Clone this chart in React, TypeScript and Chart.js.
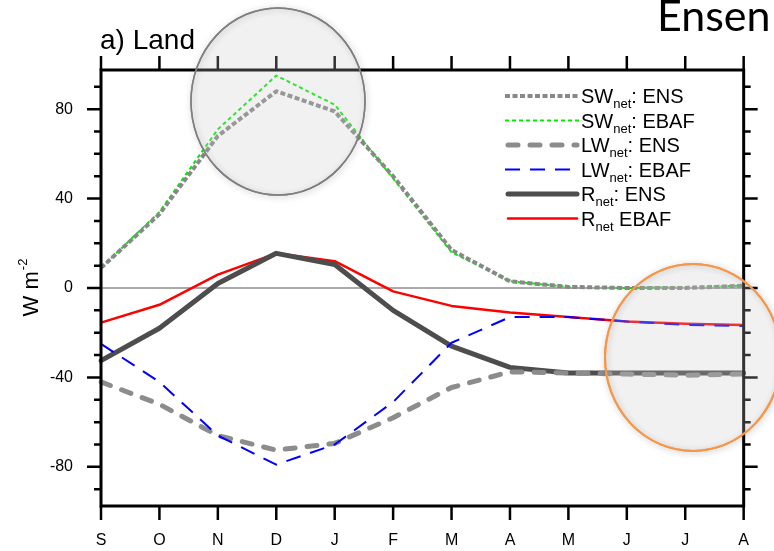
import React, { useEffect, useRef } from 'react';
import { Chart, registerables } from 'chart.js';

Chart.register(...registerables);

// Seasonal cycle, S through A (W m-2)
const months = ['S', 'O', 'N', 'D', 'J', 'F', 'M', 'A', 'M', 'J', 'J', 'A'];
const swEns = [9, 33, 68, 88, 79, 50, 17, 3, 0.5, 0, 0, 1];
const swEbaf = [9, 34, 71, 95, 82, 49, 16, 3, 0.5, 0, 0.5, 1];
const lwEns = [-42, -52, -66, -72.5, -69.5, -58, -44.5, -37.5, -38, -38.5, -39, -38.5];
const lwEbaf = [-25, -42, -66, -79, -70, -51, -24.5, -13, -13, -15, -16.5, -17];
const rEns = [-32.5, -18, 2, 15.5, 10.5, -10, -26, -35.5, -38, -38, -38, -38];
const rEbaf = [-15.5, -7.5, 6, 15.5, 12, -1.5, -8, -11, -13, -15, -16, -16.5];

const yMajorTicks = [-80, -40, 0, 40, 80];
const yMinorTicks = [-90, -70, -60, -50, -30, -20, -10, 10, 20, 30, 50, 60, 70, 90];
const yMin = -97.5;
const yMax = 97.5;

const panelTitle = 'a) Land';
const headerText = 'Ensen';
const yTitle = 'W m';
const yTitleSup = '-2';

type Row = { base: string; tail: string };
const legendRows: Row[] = [
  { base: 'SW', tail: ': ENS' },
  { base: 'SW', tail: ': EBAF' },
  { base: 'LW', tail: ': ENS' },
  { base: 'LW', tail: ': EBAF' },
  { base: 'R', tail: ': ENS' },
  { base: 'R', tail: ' EBAF' },
];

const FONT = '"Liberation Sans", Arial, Helvetica, sans-serif';

type LineStyle = { color: string; width: number; dash: number[]; cap: CanvasLineCap };
const styles: LineStyle[] = [
  { color: '#888888', width: 4, dash: [5, 2.5], cap: 'butt' },
  { color: '#00ee00', width: 2, dash: [4, 3], cap: 'butt' },
  { color: '#8c8c8c', width: 5, dash: [10, 12], cap: 'round' },
  { color: '#0000ff', width: 2, dash: [15, 10], cap: 'butt' },
  { color: '#4d4d4d', width: 5, dash: [], cap: 'round' },
  { color: '#ff0000', width: 2.5, dash: [], cap: 'round' },
];
const seriesData = [swEns, swEbaf, lwEns, lwEbaf, rEns, rEbaf];
// higher order is painted first
const drawOrder = [0, 1, 3, 2, 4, 5];

const decorations = {
  id: 'decorations',
  beforeDatasetsDraw(chart: any) {
    const { ctx, chartArea, scales } = chart;
    const y0 = scales.y.getPixelForValue(0);
    ctx.save();
    ctx.strokeStyle = '#555555';
    ctx.lineWidth = 1;
    ctx.beginPath();
    ctx.moveTo(chartArea.left, y0);
    ctx.lineTo(chartArea.right, y0);
    ctx.stroke();
    ctx.restore();
  },
  afterDatasetsDraw(chart: any) {
    const { ctx, chartArea, scales } = chart;
    const { left, right, top, bottom } = chartArea;
    const xs = scales.x;
    const ys = scales.y;
    ctx.save();

    // frame
    ctx.strokeStyle = '#000';
    ctx.lineWidth = 3;
    ctx.strokeRect(left, top, right - left, bottom - top);

    // tick marks, all pointing outward
    ctx.lineWidth = 2.5;
    ctx.lineCap = 'butt';
    const major = 14;
    const minor = 7;
    ctx.beginPath();
    months.forEach((_, i) => {
      const px = xs.getPixelForValue(i);
      ctx.moveTo(px, bottom);
      ctx.lineTo(px, bottom + major);
      ctx.moveTo(px, top);
      ctx.lineTo(px, top - major);
    });
    yMajorTicks.forEach((v) => {
      const py = ys.getPixelForValue(v);
      ctx.moveTo(left, py);
      ctx.lineTo(left - major, py);
      ctx.moveTo(right, py);
      ctx.lineTo(right + major, py);
    });
    yMinorTicks.forEach((v) => {
      const py = ys.getPixelForValue(v);
      ctx.moveTo(left, py);
      ctx.lineTo(left - minor, py);
      ctx.moveTo(right, py);
      ctx.lineTo(right + minor, py);
    });
    ctx.stroke();

    // panel title
    ctx.fillStyle = '#000';
    ctx.font = `28px ${FONT}`;
    ctx.textAlign = 'left';
    ctx.textBaseline = 'alphabetic';
    ctx.fillText(panelTitle, 100, 49);

    // header text at the top right
    ctx.font = `43px Lato, "Open Sans", sans-serif`;
    ctx.fillText(headerText, 657, 31);

    // y axis title with superscript
    ctx.save();
    ctx.font = `22px ${FONT}`;
    const wMain = ctx.measureText(yTitle).width;
    ctx.font = `13px ${FONT}`;
    const wSup = ctx.measureText(yTitleSup).width;
    ctx.translate(38, ys.getPixelForValue(0));
    ctx.rotate(-Math.PI / 2);
    const start = -(wMain + wSup) / 2;
    ctx.font = `22px ${FONT}`;
    ctx.fillText(yTitle, start, 0);
    ctx.font = `13px ${FONT}`;
    ctx.fillText(yTitleSup, start + wMain + 1, -11);
    ctx.restore();

    // legend
    legendRows.forEach((row, i) => {
      const st = styles[i];
      const ly = 96 + 24.5 * i;
      ctx.save();
      ctx.strokeStyle = st.color;
      ctx.lineWidth = st.width;
      ctx.lineCap = st.cap;
      ctx.setLineDash(st.dash);
      ctx.beginPath();
      ctx.moveTo(st.cap === 'round' ? 508 : 505, ly);
      ctx.lineTo(st.cap === 'round' ? 577 : 580, ly);
      ctx.stroke();
      ctx.restore();
      let tx = 581;
      ctx.fillStyle = '#000';
      ctx.font = `20px ${FONT}`;
      ctx.fillText(row.base, tx, ly + 7);
      tx += ctx.measureText(row.base).width;
      ctx.font = `13px ${FONT}`;
      ctx.fillText('net', tx, ly + 12);
      tx += ctx.measureText('net').width;
      ctx.font = `20px ${FONT}`;
      ctx.fillText(row.tail, tx, ly + 7);
    });

    // highlight ellipses: pale translucent fill, soft outer shadow, thin outline
    const ellipse = (cx: number, cy: number, rx: number, ry: number, stroke: string, lw: number) => {
      ctx.save();
      ctx.beginPath();
      ctx.ellipse(cx, cy, rx, ry, 0, 0, Math.PI * 2);
      ctx.shadowColor = 'rgba(0,0,0,0.35)';
      ctx.shadowBlur = 6;
      ctx.shadowOffsetX = 1;
      ctx.shadowOffsetY = 1;
      ctx.strokeStyle = stroke;
      ctx.lineWidth = lw;
      ctx.stroke();
      ctx.shadowColor = 'transparent';
      ctx.fillStyle = 'rgba(200,200,200,0.25)';
      ctx.fill();
      ctx.stroke();
      ctx.restore();
    };
    ellipse(278, 101.5, 87, 93.5, '#7f7f7f', 1.5);
    ellipse(693, 357.5, 88, 93.5, '#f79646', 2);

    ctx.restore();
  },
};

export default function App() {
  const canvasRef = useRef<HTMLCanvasElement>(null);

  useEffect(() => {
    document.body.style.margin = '0';
    const canvas = canvasRef.current;
    if (!canvas) return;
    const chart = new Chart(canvas, {
      type: 'line',
      data: {
        labels: months,
        datasets: seriesData.map((d, i) => ({
          label: legendRows[i].base + legendRows[i].tail,
          data: d,
          borderColor: styles[i].color,
          borderWidth: styles[i].width,
          borderDash: styles[i].dash,
          borderCapStyle: styles[i].cap,
          borderJoinStyle: 'round' as CanvasLineJoin,
          pointRadius: 0,
          fill: false,
          tension: 0,
          order: drawOrder[i],
        })),
      },
      options: {
        responsive: false,
        animation: false,
        devicePixelRatio: 1,
        layout: { padding: { top: 70, right: 21, left: 0, bottom: 0 } },
        plugins: {
          legend: { display: false },
          tooltip: { enabled: false },
        },
        scales: {
          x: {
            type: 'category',
            offset: false,
            grid: { display: false, drawTicks: false },
            border: { display: false },
            ticks: {
              color: '#000',
              font: { family: FONT, size: 16 },
              padding: 25,
              autoSkip: false,
              maxRotation: 0,
            },
            afterFit: (s: any) => {
              s.height = 45;
            },
          },
          y: {
            type: 'linear',
            min: yMin,
            max: yMax,
            grid: { display: false, drawTicks: false },
            border: { display: false },
            ticks: {
              color: '#000',
              font: { family: FONT, size: 16 },
              padding: 28,
            },
            afterBuildTicks: (s: any) => {
              s.ticks = yMajorTicks.map((v) => ({ value: v }));
            },
            afterFit: (s: any) => {
              s.width = 101;
            },
          },
        },
      },
      plugins: [decorations],
    });
    return () => chart.destroy();
  }, []);

  return (
    <div style={{ width: 774, height: 551, position: 'relative', background: '#fff' }}>
      <canvas ref={canvasRef} width={774} height={551} />
    </div>
  );
}
